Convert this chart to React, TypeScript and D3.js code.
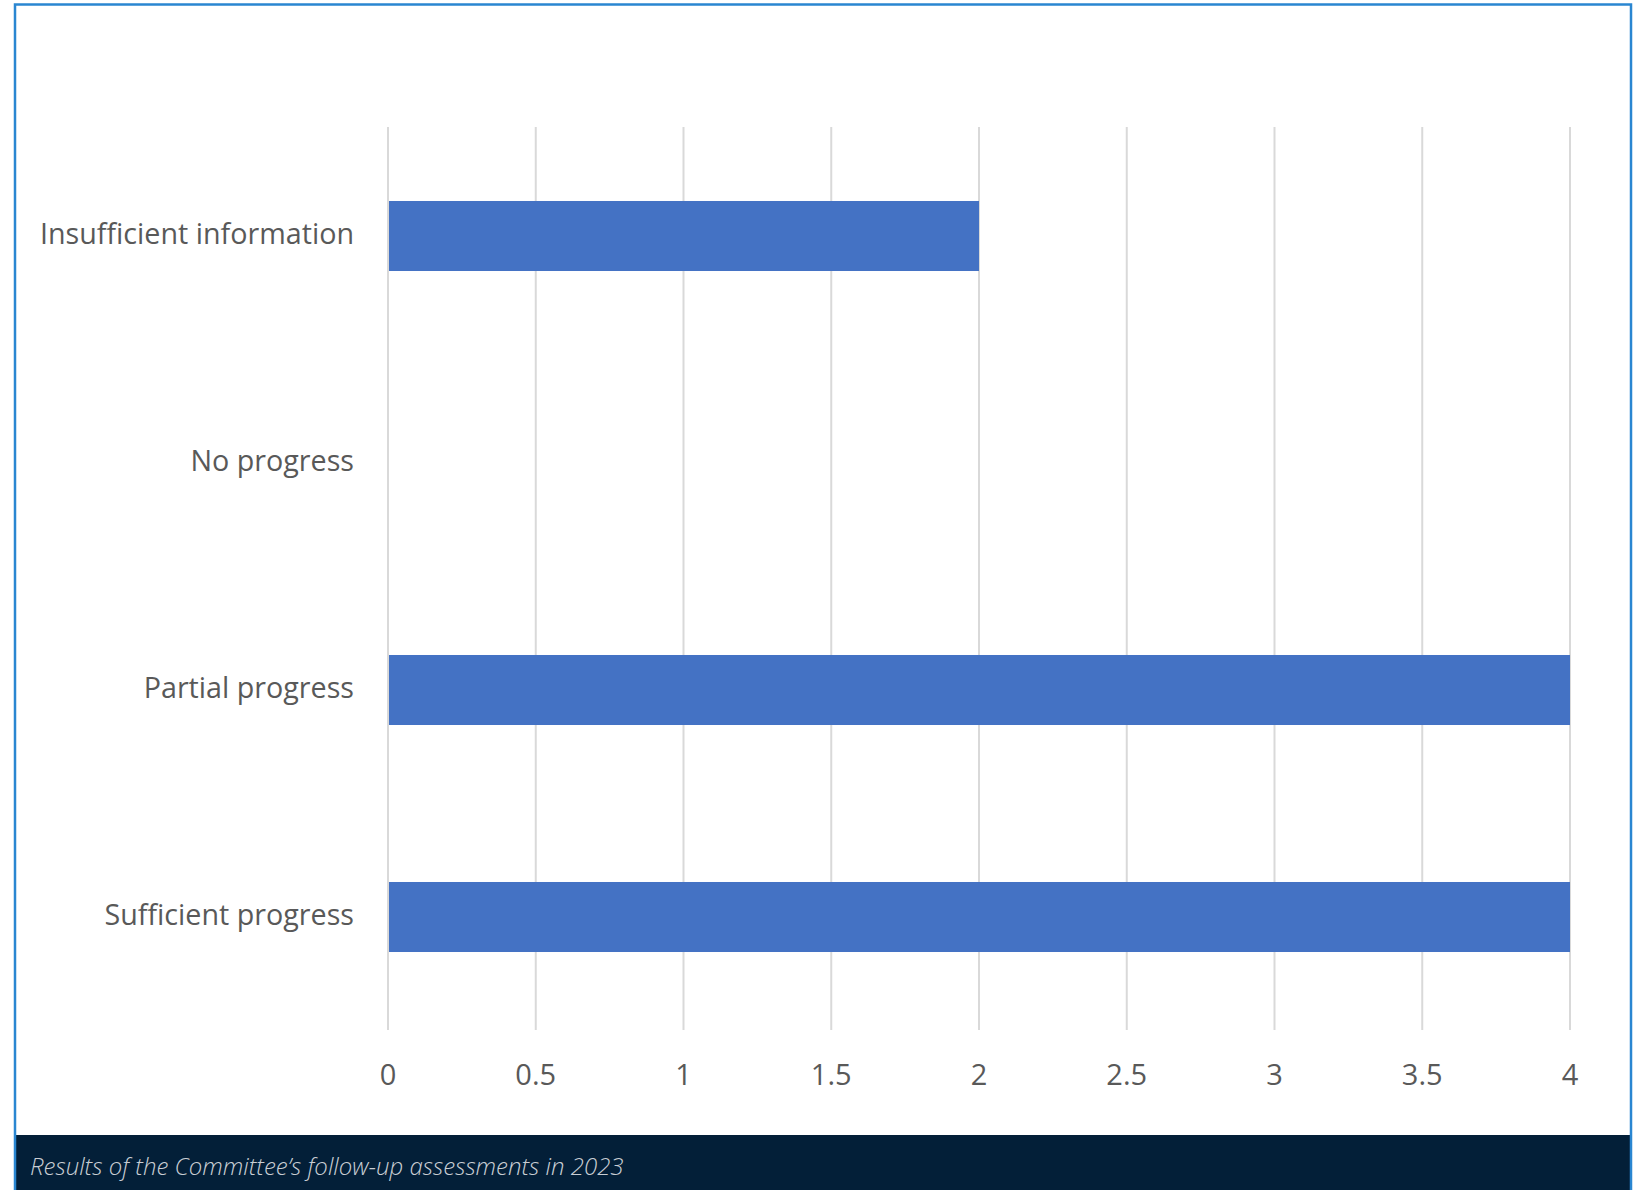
import React from "react";
import * as d3 from "d3";

const categories = ["Insufficient information", "No progress", "Partial progress", "Sufficient progress"];
const values = [2, 0, 4, 4];
const xTicks = [0, 0.5, 1, 1.5, 2, 2.5, 3, 3.5, 4];
const tickLabels = ["0", "0.5", "1", "1.5", "2", "2.5", "3", "3.5", "4"];
const caption = "Results of the Committee\u2019s follow-up assessments in 2023";

const W = 1640;
const H = 1190;

export default function App() {
  const x = d3.scaleLinear().domain([0, 4]).range([388, 1570]);
  const y = d3
    .scaleBand<string>()
    .domain(categories)
    .range([122.5, 1030.5])
    .paddingInner(0.6916)
    .paddingOuter(0.6916 / 2);

  const gridTop = 127;
  const gridBottom = 1030;
  const font = "'Open Sans', 'Noto Sans', sans-serif";

  return (
    <svg
      width={W}
      height={H}
      viewBox={`0 0 ${W} ${H}`}
      style={{ position: "absolute", left: 0, top: 0, background: "#ffffff" }}
    >
      <rect x={0} y={0} width={W} height={H} fill="#ffffff" />
      {/* caption band */}
      <rect x={14} y={1135} width={1617} height={H - 1135} fill="#031f38" />
      {/* frame */}
      <rect x={15} y={4.5} width={1616} height={H} fill="none" stroke="#2a86d1" strokeWidth={2.5} />

      {/* gridlines */}
      {xTicks.map((t) => (
        <line
          key={"g" + t}
          x1={x(t)}
          x2={x(t)}
          y1={gridTop}
          y2={gridBottom}
          stroke="#d9d9d9"
          strokeWidth={2}
        />
      ))}

      {/* bars */}
      {categories.map((c, i) => (
        <rect
          key={"b" + c}
          x={x(0) + 1}
          y={y(c)}
          width={Math.max(0, x(values[i]) - x(0) - 1)}
          height={y.bandwidth()}
          fill="#4472c4"
        />
      ))}

      {/* category labels */}
      {categories.map((c) => (
        <text
          key={"l" + c}
          x={354}
          y={(y(c) as number) + y.bandwidth() / 2 + 7.5}
          textAnchor="end"
          fontFamily={font}
          fontSize={28.7}
          fill="#595959"
        >
          {c}
        </text>
      ))}

      {/* tick labels */}
      {xTicks.map((t, i) => (
        <text
          key={"t" + t}
          x={x(t)}
          y={1085}
          textAnchor="middle"
          fontFamily={font}
          fontSize={29}
          fill="#595959"
        >
          {tickLabels[i]}
        </text>
      ))}

      {/* caption */}
      <text
        x={30}
        y={1175}
        fontFamily={font}
        fontStyle="italic"
        fontWeight={300}
        fontSize={24}
        fill="#c9ced4"
      >
        {caption}
      </text>
    </svg>
  );
}
